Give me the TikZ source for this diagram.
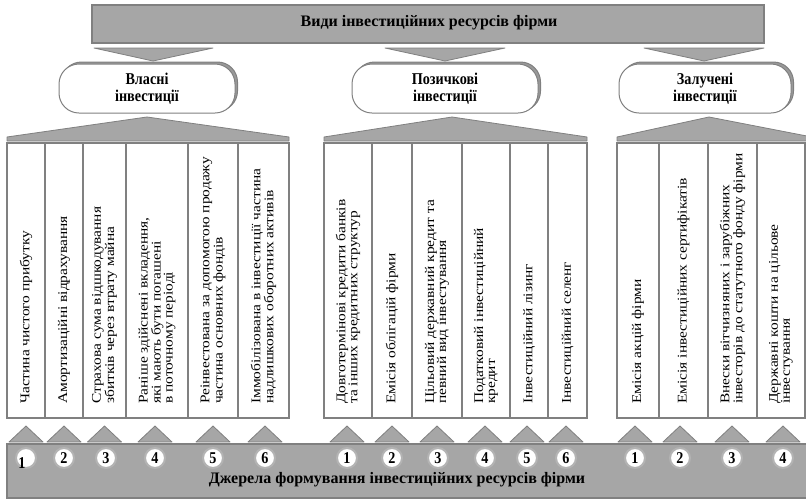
\documentclass[tikz,border=0pt]{standalone}
\usepackage{fontspec}
\setmainfont{Liberation Serif}
\newfontfamily\flatfont[FakeStretch=0.86]{Liberation Serif}
\newfontfamily\tallfont[FakeStretch=1.16]{Liberation Serif}
\usepackage{xcolor}
\usetikzlibrary{shadows}

\definecolor{fillgray}{HTML}{A6A6A6}
\definecolor{edgegray}{HTML}{808080}

\tikzset{
  graybar/.style={fill=fillgray, draw=edgegray, line width=1.6pt},
  roof/.style={fill=fillgray, draw=edgegray, line width=0.8pt, line join=round},
  colbox/.style={draw=edgegray, line width=1.5pt, fill=white},
  coltext/.style={rotate=90, anchor=west, inner sep=0pt, align=left,
    font=\tallfont\fontsize{13.3}{12}\selectfont},
  kindbox/.style={rectangle, rounded corners=20pt, fill=white, draw=edgegray,
    line width=1pt, minimum width=176pt, minimum height=49pt, align=center,
    font=\flatfont\bfseries\fontsize{16.5}{17}\selectfont,
    copy shadow={shadow xshift=2.5pt, shadow yshift=2pt, fill=edgegray!80, draw=edgegray}},
  numcirc/.style={circle, fill=white, draw=edgegray!60, line width=2pt,
    minimum size=20pt, inner sep=0pt, font=\flatfont\bfseries\fontsize{16.5}{16.5}\selectfont},
  numtext/.style={inner sep=0pt, font=\flatfont\bfseries\fontsize{16.5}{16.5}\selectfont}
}

\begin{document}
\begin{tikzpicture}[x=1pt, y=-1pt]
    \useasboundingbox[fill=white] (0,0) rectangle (806,499);

    % Title banner
    \draw[graybar] (92,5) rectangle (764,43);
    \node[font=\bfseries\fontsize{16}{18}\selectfont] (title) at (429,23) {Види інвестиційних ресурсів фірми};

    % Down arrows to the three kinds
    \draw[roof] (94,48) -- (213,48) -- (153,61) -- cycle;
    \draw[roof] (385,48) -- (505,48) -- (445,61) -- cycle;
    \draw[roof] (644,48) -- (764,48) -- (704,61) -- cycle;

    % Kinds of investment
    \node[kindbox] (vlasni) at (147,88.5) {Власні\\інвестиції};
    \node[kindbox, minimum width=186pt] (pozych) at (445,88.5) {Позичкові\\інвестиції};
    \node[kindbox, minimum width=172pt] (zaluch) at (705,88.5) {Залучені\\інвестиції};

    % Roofs over the groups
    \draw[roof] (7,141) -- (7,137) -- (147,117) -- (289,137) -- (289,141) -- cycle;
    \draw[roof] (324,141) -- (324,137) -- (452,117) -- (587,137) -- (587,141) -- cycle;
    \draw[roof] (617,141) -- (617,137) -- (709,117) -- (812,137) -- (812,141) -- cycle;

    % Sources banner
    \draw[graybar] (7,444) rectangle (812,498);
    \node[font=\bfseries\fontsize{16}{18}\selectfont] (sources) at (397,480) {Джерела формування інвестиційних ресурсів фірми};

    % Own investments
    \draw[colbox] (7,143) rectangle (45,418);
    \node[coltext] (v1) at (26,404) {Частина чистого прибутку};
    \draw[roof] (9,442) -- (26,426) -- (43,442) -- cycle;
    \node[numcirc] (nv1) at (26,458) {};
    \node[numtext] at (22,463) {1};

    \draw[colbox] (45,143) rectangle (83,418);
    \node[coltext] (v2) at (64,404) {Амортизаційні відрахування};
    \draw[roof] (47,442) -- (64,426) -- (81,442) -- cycle;
    \node[numcirc] (nv2) at (64,458) {2};

    \draw[colbox] (83,143) rectangle (126,418);
    \node[coltext] (v3) at (104.5,404) {Страхова сума відшкодування\\збитків через втрату майна};
    \draw[roof] (87.5,442) -- (104.5,426) -- (121.5,442) -- cycle;
    \node[numcirc] (nv3) at (106,458) {3};

    \draw[colbox] (126,143) rectangle (188,418);
    \node[coltext] (v4) at (157,404) {Раніше здійснені вкладення,\\які мають бути погашені\\в поточному періоді};
    \draw[roof] (138,442) -- (155,426) -- (172,442) -- cycle;
    \node[numcirc] (nv4) at (155,458) {4};

    \draw[colbox] (188,143) rectangle (238,418);
    \node[coltext] (v5) at (213,404) {Реінвестована за допомогою продажу\\частина основних фондів};
    \draw[roof] (196,442) -- (213,426) -- (230,442) -- cycle;
    \node[numcirc] (nv5) at (213,458) {5};

    \draw[colbox] (238,143) rectangle (289,418);
    \node[coltext] (v6) at (263.5,404) {Іммобілізована в інвестиції частина\\надлишкових оборотних активів};
    \draw[roof] (248,442) -- (265,426) -- (282,442) -- cycle;
    \node[numcirc] (nv6) at (265,458) {6};

    % Borrowed investments
    \draw[colbox] (324,143) rectangle (372,418);
    \node[coltext] (p1) at (348,404) {Довготермінові кредити банків\\та інших кредитних структур};
    \draw[roof] (330,442) -- (347,426) -- (364,442) -- cycle;
    \node[numcirc] (np1) at (347,458) {1};

    \draw[colbox] (372,143) rectangle (412,418);
    \node[coltext] (p2) at (392,404) {Емісія облігацій фірми};
    \draw[roof] (375,442) -- (392,426) -- (409,442) -- cycle;
    \node[numcirc] (np2) at (392,458) {2};

    \draw[colbox] (412,143) rectangle (462,418);
    \node[coltext] (p3) at (437,404) {Цільовий державний кредит та\\певний вид інвестування};
    \draw[roof] (420,442) -- (437,426) -- (454,442) -- cycle;
    \node[numcirc] (np3) at (438,458) {3};

    \draw[colbox] (462,143) rectangle (510,418);
    \node[coltext] (p4) at (486,404) {Податковий інвестиційний\\кредит};
    \draw[roof] (468,442) -- (485,426) -- (502,442) -- cycle;
    \node[numcirc] (np4) at (485,458) {4};

    \draw[colbox] (510,143) rectangle (548,418);
    \node[coltext] (p5) at (529,404) {Інвестиційний лізинг};
    \draw[roof] (510,442) -- (527,426) -- (544,442) -- cycle;
    \node[numcirc] (np5) at (527,458) {5};

    \draw[colbox] (548,143) rectangle (587,418);
    \node[coltext] (p6) at (567.5,404) {Інвестиційний селенг};
    \draw[roof] (549,442) -- (566,426) -- (583,442) -- cycle;
    \node[numcirc] (np6) at (566,458) {6};

    % Attracted investments
    \draw[colbox] (617,143) rectangle (659,418);
    \node[coltext] (z1) at (638,404) {Емісія акцій фірми};
    \draw[roof] (618,442) -- (635,426) -- (652,442) -- cycle;
    \node[numcirc] (nz1) at (635,458) {1};

    \draw[colbox] (659,143) rectangle (708,418);
    \node[coltext] (z2) at (683.5,404) {Емісія інвестиційних сертифікатів};
    \draw[roof] (663,442) -- (680,426) -- (697,442) -- cycle;
    \node[numcirc] (nz2) at (680,458) {2};

    \draw[colbox] (708,143) rectangle (757,418);
    \node[coltext] (z3) at (732.5,404) {Внески вітчизняних і зарубіжних\\інвесторів до статутного фонду фірми};
    \draw[roof] (715,442) -- (732,426) -- (749,442) -- cycle;
    \node[numcirc] (nz3) at (732,458) {3};

    \draw[colbox] (757,143) rectangle (805,418);
    \node[coltext] (z4) at (781,404) {Державні кошти на цільове\\інвестування};
    \draw[roof] (766,442) -- (783,426) -- (800,442) -- cycle;
    \node[numcirc] (nz4) at (783,458) {4};
\end{tikzpicture}
\end{document}
